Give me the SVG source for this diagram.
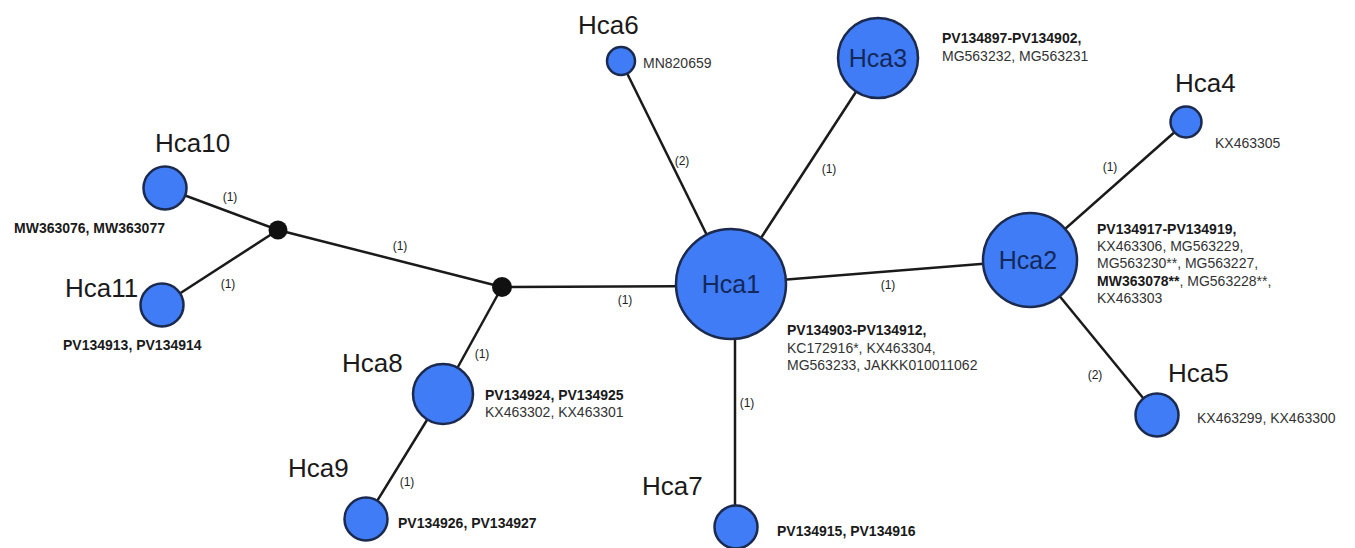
<svg xmlns="http://www.w3.org/2000/svg" width="1355" height="548" viewBox="0 0 1355 548">
<style>
.n{fill:#3f7cf5;stroke:#1b2a4e;stroke-width:2.5}
.j{fill:#111;stroke:none}
.e{stroke:#1a1a1a;stroke-width:2.5;fill:none}
.lab{font-family:"Liberation Sans",Arial,sans-serif;font-size:26px;fill:#1a1a1a}
.in{font-family:"Liberation Sans",Arial,sans-serif;font-size:25px;fill:#14285a;text-anchor:middle}
.acc{font-family:"Liberation Sans",Arial,sans-serif;font-size:14px;fill:#333}
.b{font-weight:bold;fill:#1a1a1a}
.el{font-family:"Liberation Sans",Arial,sans-serif;font-size:12px;fill:#222;text-anchor:middle}
</style>
<rect width="1355" height="548" fill="#fff"/>
<g id="connectors">
<line class="e" x1="278" y1="230" x2="165" y2="188"/>
<line class="e" x1="278" y1="230" x2="162" y2="305"/>
<line class="e" x1="278" y1="230" x2="502" y2="287"/>
<line class="e" x1="502" y1="287" x2="731" y2="286"/>
<line class="e" x1="502" y1="287" x2="443" y2="394"/>
<line class="e" x1="443" y1="394" x2="366" y2="519"/>
<line class="e" x1="731" y1="284" x2="621" y2="61"/>
<line class="e" x1="731" y1="284" x2="878" y2="58"/>
<line class="e" x1="731" y1="284" x2="1030" y2="260"/>
<line class="e" x1="735" y1="284" x2="735" y2="527"/>
<line class="e" x1="1030" y1="260" x2="1186" y2="122"/>
<line class="e" x1="1030" y1="260" x2="1157" y2="415"/>
<text class="el" x="230" y="201">(1)</text>
<text class="el" x="228" y="288">(1)</text>
<text class="el" x="400" y="250">(1)</text>
<text class="el" x="625" y="304">(1)</text>
<text class="el" x="482" y="358">(1)</text>
<text class="el" x="407" y="486">(1)</text>
<text class="el" x="682" y="165">(2)</text>
<text class="el" x="829" y="173">(1)</text>
<text class="el" x="888" y="289">(1)</text>
<text class="el" x="747" y="407">(1)</text>
<text class="el" x="1110" y="171">(1)</text>
<text class="el" x="1095" y="379">(2)</text>
</g>
<g id="J1"><circle class="j" cx="278" cy="230" r="9.5"/></g>
<g id="J2"><circle class="j" cx="502" cy="287" r="10"/></g>
<g id="Hca1">
<circle class="n" cx="731" cy="284" r="55"/>
<text class="in" x="731" y="293">Hca1</text>
<text class="acc" x="787" y="335"><tspan class="b">PV134903-PV134912,</tspan><tspan x="787" y="353">KC172916*, KX463304,</tspan><tspan x="787" y="370">MG563233, JAKKK010011062</tspan></text>
</g>
<g id="Hca2">
<circle class="n" cx="1030" cy="260" r="47"/>
<text class="in" x="1028" y="269">Hca2</text>
<text class="acc" x="1097" y="234"><tspan class="b">PV134917-PV134919,</tspan><tspan x="1097" y="251">KX463306, MG563229,</tspan><tspan x="1097" y="268">MG563230**, MG563227,</tspan><tspan x="1097" y="286"><tspan class="b">MW363078**</tspan>, MG563228**,</tspan><tspan x="1097" y="303">KX463303</tspan></text>
</g>
<g id="Hca3">
<circle class="n" cx="878" cy="58" r="40"/>
<text class="in" x="878" y="67">Hca3</text>
<text class="acc" x="942" y="43"><tspan class="b">PV134897-PV134902,</tspan><tspan x="942" y="61">MG563232,  MG563231</tspan></text>
</g>
<g id="Hca4">
<circle class="n" cx="1186" cy="122" r="15.5"/>
<text class="lab" x="1175" y="92">Hca4</text>
<text class="acc" x="1215" y="148">KX463305</text>
</g>
<g id="Hca5">
<circle class="n" cx="1157" cy="415" r="21.5"/>
<text class="lab" x="1168" y="382">Hca5</text>
<text class="acc" x="1197" y="423">KX463299, KX463300</text>
</g>
<g id="Hca6">
<circle class="n" cx="621" cy="61" r="14"/>
<text class="lab" x="578" y="34">Hca6</text>
<text class="acc" x="643" y="68">MN820659</text>
</g>
<g id="Hca7">
<circle class="n" cx="736" cy="527" r="21.5"/>
<text class="lab" x="642" y="495">Hca7</text>
<text class="acc b" x="777" y="536">PV134915, PV134916</text>
</g>
<g id="Hca8">
<circle class="n" cx="443" cy="394" r="30"/>
<text class="lab" x="342" y="372">Hca8</text>
<text class="acc" x="485" y="400"><tspan class="b">PV134924, PV134925</tspan><tspan x="485" y="417">KX463302, KX463301</tspan></text>
</g>
<g id="Hca9">
<circle class="n" cx="366" cy="519" r="21.5"/>
<text class="lab" x="288" y="477">Hca9</text>
<text class="acc b" x="398" y="528">PV134926, PV134927</text>
</g>
<g id="Hca10">
<circle class="n" cx="165" cy="188" r="21.5"/>
<text class="lab" x="155" y="152">Hca10</text>
<text class="acc b" x="14" y="233">MW363076, MW363077</text>
</g>
<g id="Hca11">
<circle class="n" cx="162" cy="305" r="21.5"/>
<text class="lab" x="65" y="297">Hca11</text>
<text class="acc b" x="63" y="350">PV134913, PV134914</text>
</g>
</svg>
